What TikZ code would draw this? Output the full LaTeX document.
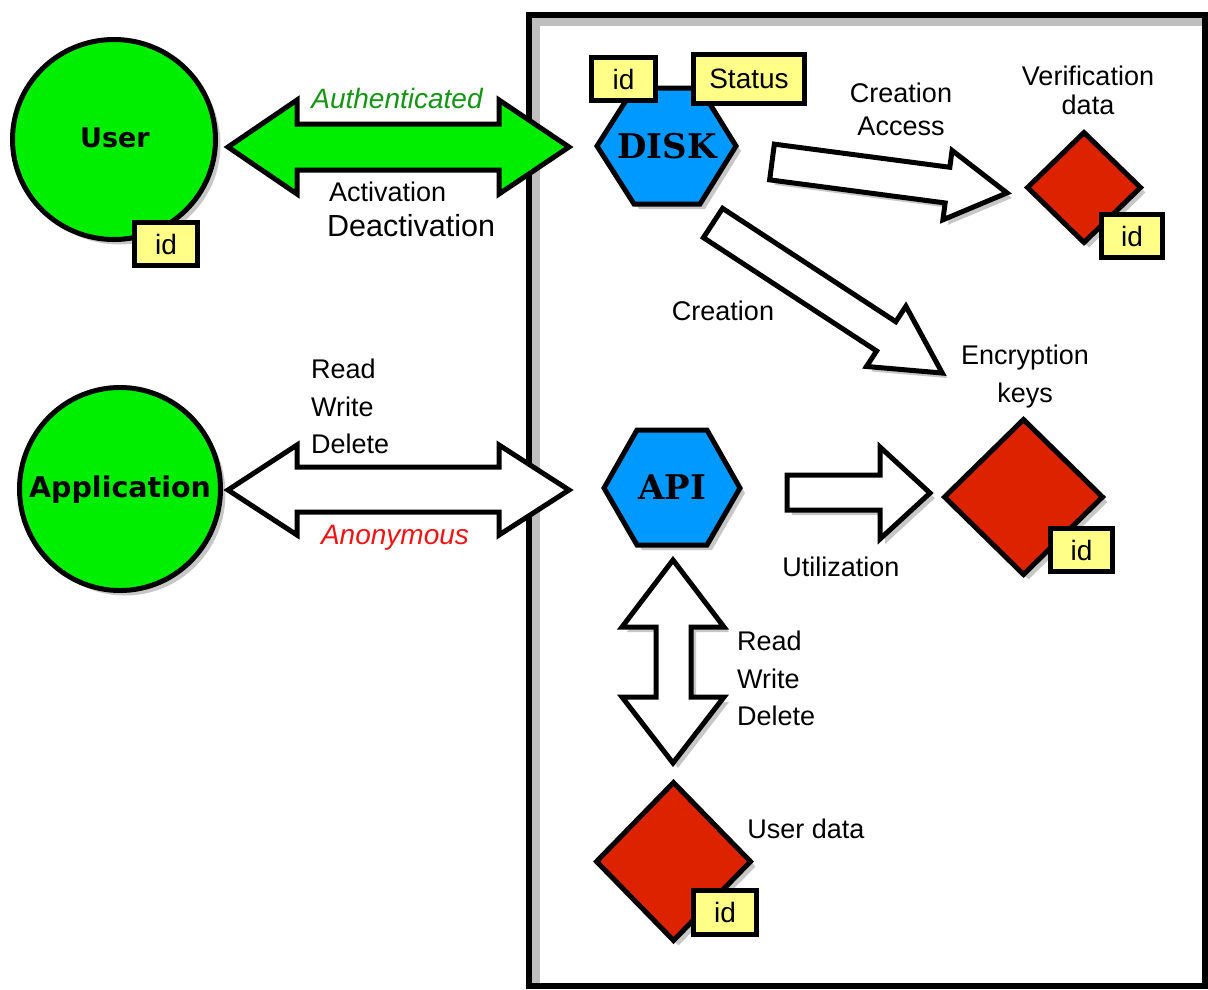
\documentclass[tikz,border=0pt]{standalone}
\usepackage{fontspec}
\setmainfont{Liberation Sans}
\newfontfamily\verdfont{DejaVu Sans}
\newfontfamily\serfont{DejaVu Serif}
\usetikzlibrary{shapes.geometric,shadows}
\definecolor{bgreen}{RGB}{0,238,0}
\definecolor{dblue}{RGB}{0,153,255}
\definecolor{dred}{RGB}{221,34,0}
\definecolor{boxyellow}{RGB}{255,255,136}
\definecolor{authgreen}{RGB}{20,150,20}
\definecolor{anonred}{RGB}{240,20,20}
\begin{document}
\begin{tikzpicture}[x=1pt,y=-1pt,
  lbl/.style={inner sep=0pt,font=\fontsize{27}{33}\selectfont},
  ol/.style={draw=black,line width=5pt,line join=miter},
  shd/.style={drop shadow={shadow xshift=5pt,shadow yshift=-5pt,fill=black!22,opacity=1}},
  idbox/.style={ol,fill=boxyellow,inner sep=0pt,font=\fontsize{28}{34}\selectfont},
  ent/.style={ellipse,ol,fill=bgreen,shd,inner sep=0pt},
  entlbl/.style={inner sep=0pt,font=\verdfont\bfseries\fontsize{27}{30}\selectfont},
  dat/.style={diamond,ol,fill=dred,shd,inner sep=0pt},
  hexs/.style={ol,fill=dblue,shd},
  hollow/.style={ol,fill=white,shd},
  bigarrow/.style={ol}
]
\useasboundingbox (0,0) rectangle (1208,989);
\fill[white] (0,0) rectangle (1208,989);

% frame
\fill[black!25] (532,18) rectangle (540,983);
\fill[black!25] (532,18) rectangle (1202,26);
\draw[line width=6pt] (529,15) rectangle (1205,986);

% left entities
\node[ent,minimum width=203pt,minimum height=200pt] (user) at (114,139.5) {};
\node[entlbl] (userlbl) at (115,138) {User};
\node[idbox,minimum width=63pt,minimum height=43pt] (userid) at (166,244) {id};
\node[ent,minimum width=201pt,minimum height=203pt] (app) at (120,489) {};
\node[entlbl,font=\verdfont\bfseries\fontsize{28.5}{30}\selectfont] (applbl) at (120,490) {Application};

% big double arrows
\path[bigarrow,fill=bgreen] (228,147) -- (297,100) -- (297,124) -- (499,124) -- (499,100) -- (569,147)
  -- (499,194) -- (499,170) -- (297,170) -- (297,194) -- cycle;
\path[bigarrow,fill=white] (228,490) -- (297,445) -- (297,467) -- (499,467) -- (499,445) -- (569,490)
  -- (499,535) -- (499,512) -- (297,512) -- (297,535) -- cycle;

% hexagons
\path[hexs] (597,146) -- (634,88) -- (700,88) -- (736,146) -- (700,204) -- (634,204) -- cycle;
\node[inner sep=0pt,font=\serfont\bfseries\fontsize{34}{40}\selectfont] (disk) at (667,146.5) {DISK};
\node[idbox,minimum width=64pt,minimum height=43pt] (diskid) at (623.5,79) {id};
\node[idbox,minimum width=111pt,minimum height=49pt] (status) at (749,79) {Status};

\path[hexs] (604,488) -- (637,430) -- (707,430) -- (740,488) -- (707,545) -- (637,545) -- cycle;
\node[inner sep=0pt,font=\serfont\bfseries\fontsize{34}{40}\selectfont] (api) at (672,487.5) {API};

% hollow arrows
\begin{scope}[shift={(772,162)},rotate=-7.5]
  \path[hollow] (0,-18) -- (177,-18) -- (177,-35) -- (237,0) -- (177,35) -- (177,18) -- (0,18) -- cycle;
\end{scope}
\begin{scope}[shift={(713,223)},rotate=-33.2]
  \path[hollow] (0,-17.5) -- (207,-17.5) -- (207,-36) -- (274,0) -- (207,36) -- (207,17.5) -- (0,17.5) -- cycle;
\end{scope}
\path[hollow] (787,475) -- (880,475) -- (880,447) -- (930,493) -- (880,539) -- (880,510) -- (787,510) -- cycle;
\path[hollow] (673,560) -- (724,627) -- (691,627) -- (691,697) -- (724,697) -- (673,763) -- (622,697)
  -- (656,697) -- (656,627) -- (622,627) -- cycle;

% data diamonds
\node[dat,minimum width=115pt,minimum height=112pt] (verif) at (1084,187.5) {};
\node[idbox,minimum width=61pt,minimum height=43pt] (verifid) at (1132,236) {id};
\node[dat,minimum width=160pt,minimum height=157pt] (enc) at (1023.5,497) {};
\node[idbox,minimum width=62pt,minimum height=43pt] (encid) at (1081.5,550) {id};
\node[dat,minimum width=156pt,minimum height=160pt] (udata) at (673.5,861.5) {};
\node[idbox,minimum width=63pt,minimum height=44pt] (udataid) at (725,912.5) {id};

% labels
\node[lbl,text=authgreen,font=\itshape\fontsize{28}{33}\selectfont] (auth) at (397,98) {Authenticated};
\node[lbl,anchor=west] (act) at (329,192) {Activation};
\node[lbl,anchor=west,font=\fontsize{30.5}{36}\selectfont] (deact) at (327,226) {Deactivation};
\node[lbl,anchor=west,align=left,font=\fontsize{27}{37.5}\selectfont] (rwd1) at (311,406.5) {Read\\Write\\Delete};
\node[lbl,text=anonred,font=\itshape\fontsize{28}{33}\selectfont] (anon) at (395,538) {Anonymous};
\node[lbl,align=center,font=\fontsize{27}{33}\selectfont] (crac) at (901,109.5) {Creation\\Access};
\node[lbl,align=center,font=\fontsize{27}{29}\selectfont] (verlab) at (1088,90.5) {Verification\\data};
\node[lbl] (crea) at (723,311) {Creation};
\node[lbl,align=center,font=\fontsize{27}{38}\selectfont] (enclab) at (1025,377) {Encryption\\keys};
\node[lbl] (util) at (841,567) {Utilization};
\node[lbl,anchor=west,align=left,font=\fontsize{27}{37.5}\selectfont] (rwd2) at (737,678.5) {Read\\Write\\Delete};
\node[lbl] (udlab) at (806,829) {User data};
\end{tikzpicture}
\end{document}
